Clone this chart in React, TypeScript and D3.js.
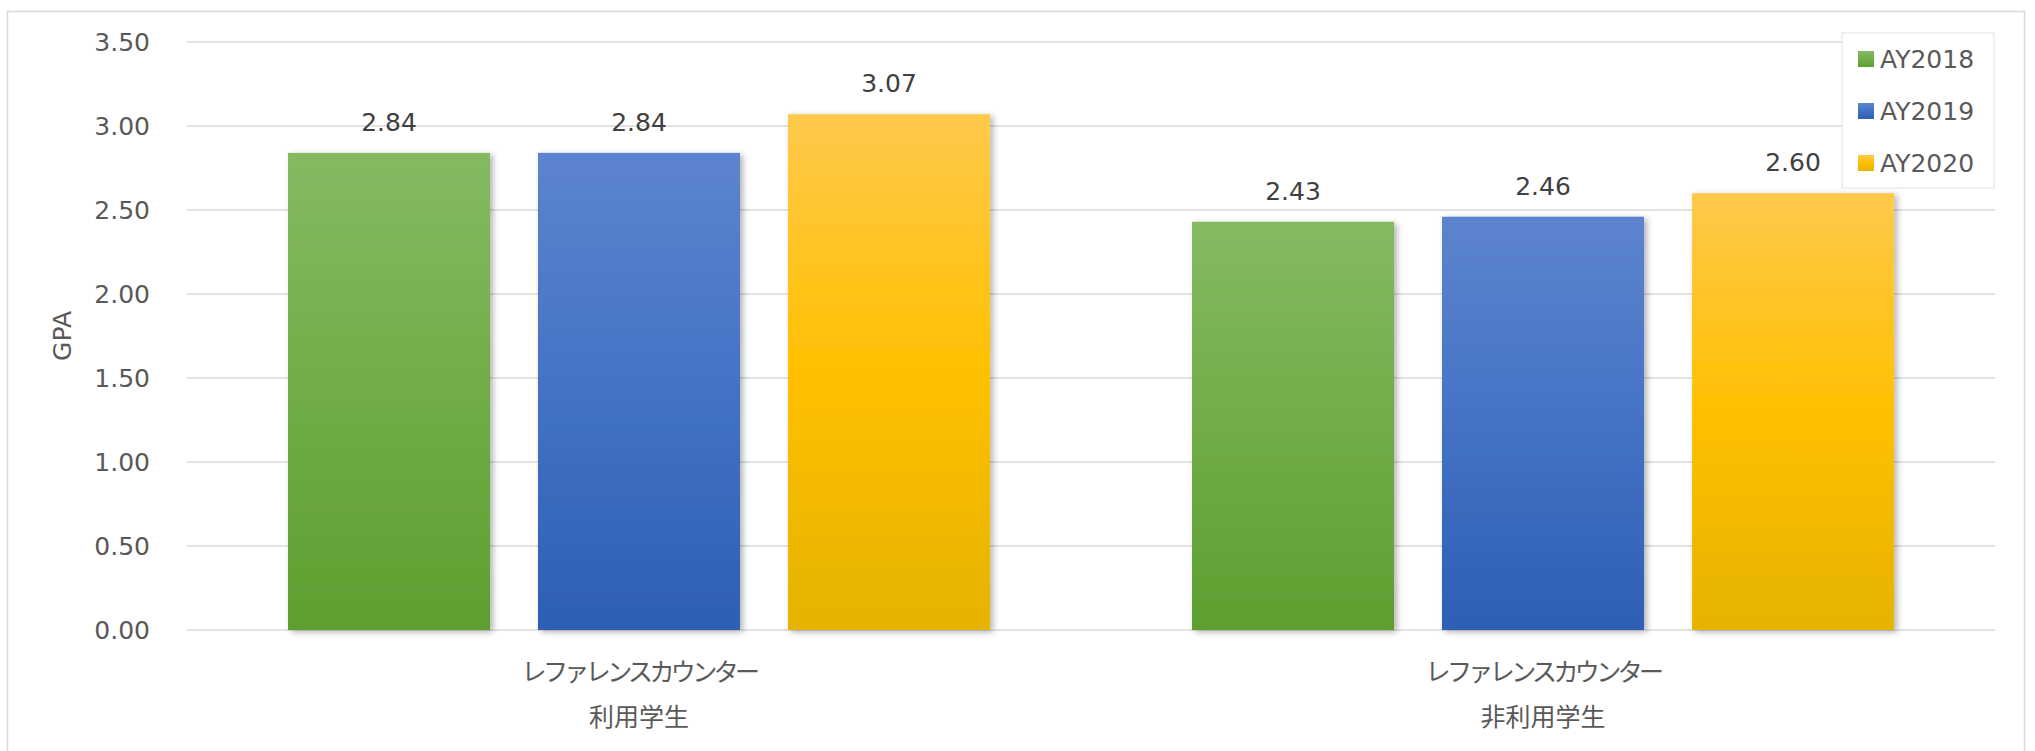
import React from "react";
import * as d3 from "d3";

const categories = ["レファレンスカウンター\n利用学生", "レファレンスカウンター\n非利用学生"];
const seriesNames = ["AY2018", "AY2019", "AY2020"];
const values2018 = [2.84, 2.43];
const values2019 = [2.84, 2.46];
const values2020 = [3.07, 2.6];
const yTicks = [0, 0.5, 1, 1.5, 2, 2.5, 3, 3.5];
const seriesValues = [values2018, values2019, values2020];
const gradStops = [
  ["#85ba63", "#70ad47", "#5e9f30"],
  ["#5d84ce", "#4472c4", "#2d5fb4"],
  ["#ffc94c", "#ffc000", "#e5b300"],
];

const W = 2035;
const H = 751;
const FONT = "'DejaVu Sans', Verdana, sans-serif";
const CJK = "'Noto Sans CJK JP', sans-serif";

export default function App() {
  const plotLeft = 187;
  const plotRight = 1995;
  const y = d3.scaleLinear().domain([0, 3.5]).range([630, 42]);
  const x0 = d3.scaleBand<string>().domain(categories).range([plotLeft, plotRight]).paddingInner(0).paddingOuter(0);
  const groupW = x0.bandwidth();
  const x1 = d3
    .scaleBand<string>()
    .domain(seriesNames)
    .range([groupW * 0.1117, groupW * (1 - 0.1117)])
    .paddingInner(0.192)
    .paddingOuter(0);

  return (
    <svg width={W} height={H} style={{ position: "absolute", left: 0, top: 0, background: "#fff" }}>
      <defs>
        {gradStops.map((s, i) => (
          <linearGradient key={i} id={`g${i}`} x1="0" y1="0" x2="0" y2="1">
            <stop offset="0" stopColor={s[0]} />
            <stop offset="0.5" stopColor={s[1]} />
            <stop offset="1" stopColor={s[2]} />
          </linearGradient>
        ))}
        <filter id="sh" x="-10%" y="-10%" width="130%" height="130%">
          <feDropShadow dx="3" dy="2" stdDeviation="3" floodColor="#000" floodOpacity="0.3" />
        </filter>
      </defs>
      <rect x={7.5} y={11.5} width={2017} height={760} fill="#fff" stroke="#d9d9d9" strokeWidth={1.5} />
      {yTicks.map((t) => (
        <g key={t}>
          <line x1={plotLeft} x2={plotRight} y1={y(t)} y2={y(t)} stroke="#d9d9d9" strokeWidth={1.5} />
          <text x={150} y={y(t)} dy="0.35em" textAnchor="end" fontFamily={FONT} fontSize={25} fill="#595959">
            {d3.format(".2f")(t)}
          </text>
        </g>
      ))}
      <text
        transform={`translate(62,336) rotate(-90)`}
        textAnchor="middle"
        dy="0.35em"
        fontFamily={FONT}
        fontSize={25}
        fill="#595959"
      >
        GPA
      </text>
      {categories.map((c, ci) => (
        <g key={c} transform={`translate(${x0(c)},0)`}>
          {seriesNames.map((s, si) => {
            const v = seriesValues[si][ci];
            const bx = x1(s)!;
            const bw = x1.bandwidth();
            return (
              <g key={s}>
                <rect
                  x={bx}
                  y={y(v)}
                  width={bw}
                  height={y(0) - y(v)}
                  fill={`url(#g${si})`}
                  filter="url(#sh)"
                />
                <text
                  x={bx + bw / 2}
                  y={y(v) - 22}
                  textAnchor="middle"
                  fontFamily={FONT}
                  fontSize={25}
                  fill="#404040"
                >
                  {d3.format(".2f")(v)}
                </text>
              </g>
            );
          })}
          {c.split("\n").map((line, li) => (
            <text
              key={li}
              x={groupW / 2}
              y={672 + li * 45}
              dy="0.35em"
              textAnchor="middle"
              fontFamily={CJK}
              fontSize={25}
              fill="#595959"
              letterSpacing={li === 0 ? -3.6 : 0}
            >
              {line}
            </text>
          ))}
        </g>
      ))}
      <rect x={1842} y={33} width={152} height={155} fill="#fff" stroke="#ebebeb" strokeWidth={1.5} />
      {seriesNames.map((s, si) => (
        <g key={s} transform={`translate(1858,${59 + si * 52})`}>
          <rect x={0} y={-8} width={16} height={16} fill={`url(#g${si})`} />
          <text x={22} y={0} dy="0.35em" fontFamily={FONT} fontSize={25} fill="#595959">
            {s}
          </text>
        </g>
      ))}
    </svg>
  );
}
